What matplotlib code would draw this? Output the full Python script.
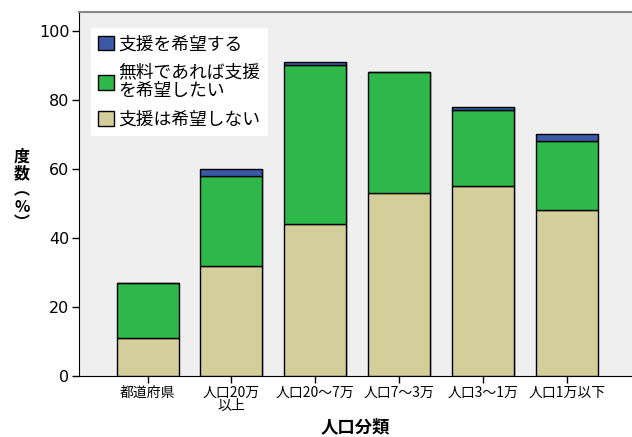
import matplotlib
matplotlib.use("Agg")
import matplotlib.pyplot as plt
import numpy as np

plt.rcParams['font.family'] = ['Noto Sans CJK JP', 'DejaVu Sans']

categories = ["都道府県", "人口20万\n以上", "人口20〜7万", "人口7〜3万", "人口3〜1万", "人口1万以下"]
no_support = [11, 32, 44, 53, 55, 48]
free_support = [16, 26, 46, 35, 22, 20]
want_support = [0, 2, 1, 0, 1, 2]
series_labels = ["支援は希望しない", "無料であれば支援\nを希望したい", "支援を希望する"]
colors = ["#D3CE9A", "#2EB84A", "#3C59A8"]
yticks = [0, 20, 40, 60, 80, 100]

fig = plt.figure(figsize=(6.32, 4.37), dpi=100)
ax = fig.add_axes([79/632, 1-376/437, 1-79/632, (376-12)/437])
ax.set_facecolor("#EFEFEF")

x = np.arange(len(categories))
w = 0.74
bottom = np.zeros(len(categories))
handles = []
for vals, lab, c in zip([no_support, free_support, want_support], series_labels, colors):
    vals = np.array(vals, dtype=float)
    b = ax.bar(x, vals, w, bottom=bottom, color=c, edgecolor="black", linewidth=1.0, label=lab, zorder=3)
    handles.append(b)
    bottom += vals
# subtle shadow
ax.bar(x + 0.02, bottom, w, bottom=0, color="#9a9a9a", alpha=0.5, zorder=2, linewidth=0)

ax.set_xlim(-0.82, 5.78)
ax.set_ylim(0, 105.5)
ax.set_xticks(x)
ax.set_xticklabels(categories, fontsize=10, linespacing=0.95)
ax.set_yticks(yticks)
ax.set_yticklabels([str(t) for t in yticks], fontsize=11.5, family="DejaVu Sans")
ax.tick_params(axis="y", direction="out", length=5, width=1, pad=2)
ax.tick_params(axis="x", direction="out", length=5, width=1, pad=2)

ax.spines["right"].set_visible(False)
ax.spines["top"].set_color("#888888")
ax.spines["top"].set_linewidth(1.5)
ax.spines["left"].set_color("black")
ax.spines["bottom"].set_color("black")

ax.set_xlabel("人口分類", fontsize=12.5, fontweight="bold", labelpad=4)

fig.text(22/632, 1-190/437, "度\n数\n︵\n%\n︶", ha="center", va="center",
         fontsize=11.5, fontweight="bold", linespacing=1.05)

leg = ax.legend(handles[::-1], series_labels[::-1], loc="upper left",
                bbox_to_anchor=((91-79)/553, 1-(28-12)/364), fontsize=12.8,
                frameon=True, fancybox=False, framealpha=1, edgecolor="white",
                handlelength=0.9, handleheight=0.9, handletextpad=0.25,
                labelspacing=0.6, borderpad=0.4, borderaxespad=0)
leg.get_frame().set_linewidth(0)
for t in leg.get_texts():
    t.set_linespacing(1.0)

fig.savefig("out.png", dpi=100, facecolor="white")
